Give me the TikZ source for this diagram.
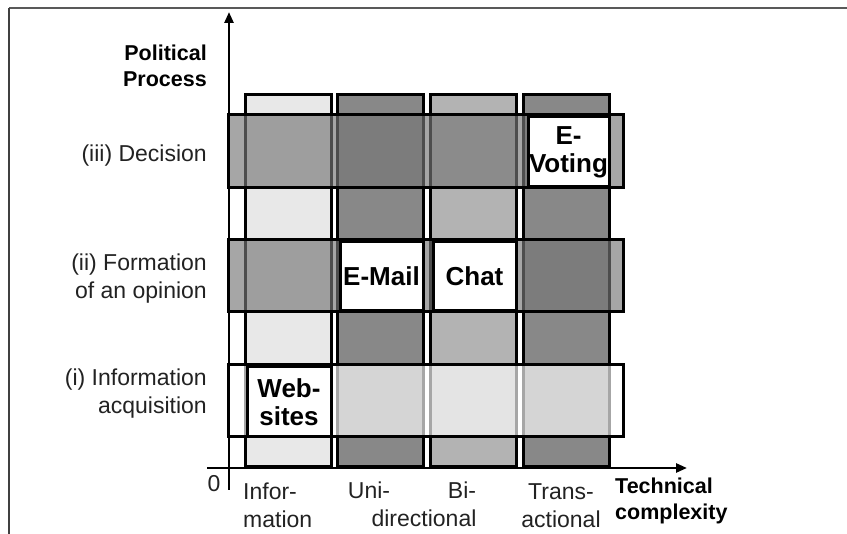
\documentclass[tikz,border=0pt]{standalone}
\usepackage{fontspec}
\setmainfont{Liberation Sans}
\usetikzlibrary{arrows.meta}
\definecolor{barlight}{HTML}{E8E8E8}
\definecolor{barmid}{HTML}{B3B3B3}
\definecolor{bardark}{HTML}{888888}
\definecolor{bandgray}{HTML}{777777}
\definecolor{textgray}{HTML}{222222}
\begin{document}
\begin{tikzpicture}[x=1pt,y=-1pt,
  bar/.style={draw=black,line width=3pt},
  band/.style={draw=black,line width=3pt,fill opacity=.65},
  cell/.style={draw=black,line width=3pt,fill=white,inner sep=0pt,align=center,
    font=\bfseries\fontsize{26}{28}\selectfont},
  lab/.style={inner sep=0pt,text=textgray,font=\fontsize{23}{28}\selectfont},
  head/.style={inner sep=0pt,font=\bfseries\fontsize{21.5}{26}\selectfont},
  axis/.style={line width=2.5pt,-{Triangle[length=11pt,width=9pt]}}]
\useasboundingbox (0,0) rectangle (847,534);
%%
\newcommand{\techbar}[3]{\draw[bar,fill=#3] (#1,95) rectangle (#2,467);}
\newcommand{\procband}[3]{\draw[band,fill=#3] (228,#1) rectangle (623,#2);}
%%
% frame
\draw[black!65,line width=2pt] (847,8) -- (9,8);
\draw[black!75,line width=1.2pt] (9,8) -- (9,534);
% columns: technical complexity
\techbar{245}{331}{barlight}
\techbar{337}{423}{bardark}
\techbar{430}{516}{barmid}
\techbar{523}{609}{bardark}
% rows: political process
\procband{115}{188}{bandgray}
\procband{240}{312}{bandgray}
\procband{365}{437}{white}
% tools
\node[cell,minimum width=81,minimum height=70] (evote) at (568.5,152) {E-\\Voting};
\node[cell,minimum width=83,minimum height=69] (email) at (381.5,276.5) {E-Mail};
\node[cell,minimum width=83,minimum height=69] (chat) at (474.5,276.5) {Chat};
\node[cell,minimum width=84,minimum height=70] (websites) at (289,402) {Web-\\sites};
% axes
\coordinate (ybot) at (229,490);
\coordinate (ytop) at (229,12);
\coordinate (xbeg) at (207,468);
\coordinate (xend) at (687,468);
\draw[axis] (ybot) -- (ytop);
\draw[axis] (xbeg) -- (xend);
% labels
\node[head,anchor=east,align=right] (polproc) at (207,66) {Political\\Process};
\node[lab,anchor=east] (decision) at (207,156) {(iii) Decision};
\node[lab,anchor=east,align=right] (opinion) at (207,279) {(ii) Formation\\of an opinion};
\node[lab,anchor=east,align=right] (inform) at (207,394) {(i) Information\\acquisition};
\node[lab] (zero) at (214,484) {0};
\node[lab,anchor=north west,align=left] (colinfo) at (243,483) {Infor-\\mation};
\node[lab,anchor=base] (coluni) at (369,499) {Uni-};
\node[lab,anchor=base] (colbi) at (462,499) {Bi-};
\node[lab,anchor=base] (coldir) at (424,527) {directional};
\node[lab,anchor=north,align=center] (coltrans) at (561,483) {Trans-\\actional};
\node[head,anchor=west,align=left] (techcx) at (615,501) {Technical\\complexity};
\end{tikzpicture}
\end{document}
